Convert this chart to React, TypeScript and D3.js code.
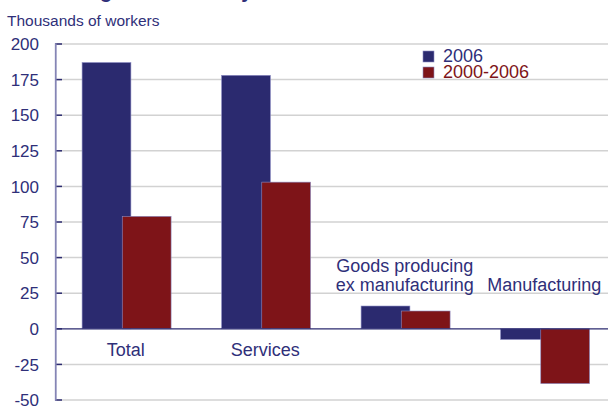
import React from "react";
import * as d3 from "d3";

const categories = ["Total", "Services", "Goods producing|ex manufacturing", "Manufacturing"];
const series2006 = [187, 178, 16, -7.5];
const series2000_2006 = [79, 103, 12.5, -38.5];
const seriesNames = ["2006", "2000-2006"];
const yTicks = [200, 175, 150, 125, 100, 75, 50, 25, 0, -25, -50];

const W = 608;
const H = 410;
const NAVY = "#2b2a6f";
const RED = "#7e1418";
const TEXT_NAVY = "#2f2f79";
const FONT = "'Liberation Sans', Arial, sans-serif";

export default function App() {
  const y = d3.scaleLinear().domain([-50, 200]).range([400, 44]);
  const x = d3.scaleBand<string>().domain(categories).range([56, 614]).paddingInner(0).paddingOuter(0);
  const bw = x.bandwidth();
  const barW = bw * 0.35;

  return (
    <svg width={W} height={H} style={{ position: "absolute", left: 0, top: 0, background: "#fff" }}>
      <text x={19} y={-2.5} fontFamily={FONT} fontSize={20} fontWeight="bold" fill={TEXT_NAVY}>
        Net hiring in the state by sector
      </text>
      <text x={7} y={26} fontFamily={FONT} fontSize={15.5} fill={TEXT_NAVY}>
        Thousands of workers
      </text>
      {yTicks.map((t) => (
        <g key={t}>
          {t !== 0 && (
            <line x1={56} x2={W} y1={y(t)} y2={y(t)} stroke="#d2d2d2" strokeWidth={1.5} />
          )}
          <line x1={55} x2={62} y1={y(t)} y2={y(t)} stroke={NAVY} strokeWidth={1.5} />
          <text x={39} y={y(t)} dy="0.36em" textAnchor="end" fontFamily={FONT} fontSize={17} fill={TEXT_NAVY}>
            {t}
          </text>
        </g>
      ))}
      {categories.map((c, i) => {
        const x0 = x(c)!;
        const v1 = series2006[i];
        const v2 = series2000_2006[i];
        return (
          <g key={c}>
            <rect
              x={x0 + bw * 0.187}
              y={y(Math.max(0, v1))}
              width={barW}
              height={Math.abs(y(v1) - y(0))}
              fill={NAVY}
              stroke="#8c8cc4"
              strokeWidth={0.6}
            />
            <rect
              x={x0 + bw * 0.475}
              y={y(Math.max(0, v2))}
              width={barW}
              height={Math.abs(y(v2) - y(0))}
              fill={RED}
              stroke="#8c8cc4"
              strokeWidth={0.6}
            />
          </g>
        );
      })}
      <line x1={56} x2={W} y1={y(0)} y2={y(0)} stroke={NAVY} strokeWidth={1.2} />
      <line x1={55.75} x2={55.75} y1={y(200) - 0.75} y2={y(-50) + 0.75} stroke="#8585b5" strokeWidth={1.8} />
      {categories.map((c, i) => {
        const cx = x(c)! + bw / 2;
        const lines = c.split("|");
        const big = Math.max(series2006[i], series2000_2006[i]) > 50;
        const baseY = big ? y(0) + 27.5 : y(25) - 2.5;
        return (
          <text key={c} textAnchor="middle" fontFamily={FONT} fontSize={18} fill={TEXT_NAVY}>
            {lines.map((l, j) => (
              <tspan key={j} x={cx} y={baseY - (lines.length - 1 - j) * 18.5}>
                {l}
              </tspan>
            ))}
          </text>
        );
      })}
      {seriesNames.map((s, i) => (
        <g key={s}>
          <rect x={423} y={51 + i * 16} width={11} height={11} fill={i === 0 ? NAVY : RED} stroke="#8c8cc4" strokeWidth={0.6} />
          <text x={443} y={61.5 + i * 16.3} fontFamily={FONT} fontSize={18} fill={i === 0 ? TEXT_NAVY : RED}>
            {s}
          </text>
        </g>
      ))}
    </svg>
  );
}
